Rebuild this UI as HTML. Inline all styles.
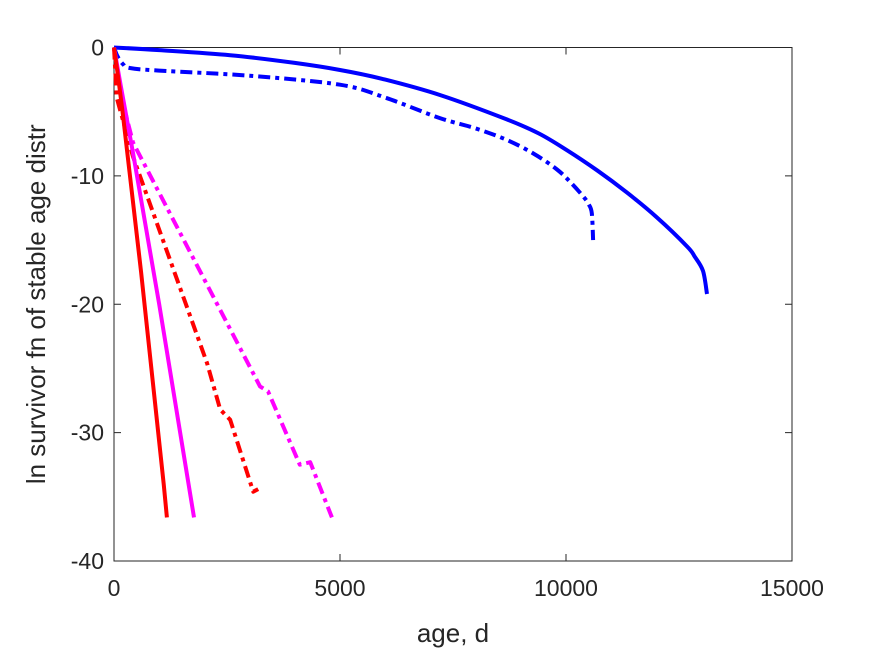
<!DOCTYPE html>
<html><head><meta charset="utf-8"><style>
body{margin:0;background:#fff;}
svg{display:block;font-family:"Liberation Sans",sans-serif;}
</style></head><body>
<svg id="chart" width="875" height="656">
<rect width="875" height="656" fill="#fff"/>
<g id="plot"></g>
</svg>
<script>
const xTicks=[0,5000,10000,15000];
const yTicks=[0,-10,-20,-30,-40];
const redSolidX=[0,100,200,600,1100,1170];
const redSolidY=[0,-2.5,-5.3,-17.5,-34,-36.6];
const magSolidX=[0,150,420,1000,1770];
const magSolidY=[0,-3,-8.2,-20,-36.6];
const redDashX=[0,60,420,2060,2350,2570,3080,3190];
const redDashY=[0,-3.9,-8.5,-24.6,-28.2,-29,-34.6,-34.4];
const magDashX=[0,100,420,3230,3410,4110,4340,4820];
const magDashY=[0,-3,-7.4,-26.4,-26.8,-32.5,-32.3,-36.6];
const blueSolidX=[0,1000,2570,4000,5000,6000,7210,8690,9400,10020,10700,11350,12000,12680,12850,13030,13120];
const blueSolidY=[0,-0.2,-0.6,-1.2,-1.75,-2.5,-3.7,-5.6,-6.7,-8.0,-9.6,-11.3,-13.2,-15.5,-16.3,-17.4,-19.2];
const blueDashX=[0,80,200,350,1000,3000,5000,6000,7210,8000,8690,9300,9800,10100,10380,10500,10570,10600];
const blueDashY=[0,-0.7,-1.3,-1.6,-1.8,-2.2,-2.9,-3.9,-5.5,-6.3,-7.2,-8.3,-9.5,-10.5,-11.6,-12.2,-12.9,-15.0];

const L=114,R=792,T=47.5,B=561;
const sx=v=>L+(v-0)/15000*(R-L);
const sy=v=>T+(0-v)/40*(B-T);
const NS="http://www.w3.org/2000/svg";
const g=document.getElementById('plot');
function mk(t,a){const e=document.createElementNS(NS,t);for(const k in a)e.setAttribute(k,a[k]);g.appendChild(e);return e;}
const box=mk('rect',{x:L,y:T,width:R-L,height:B-T,fill:'none',stroke:'#262626','stroke-width':1});


xTicks.forEach(v=>{
 const t=mk('line',{x1:sx(v),x2:sx(v),y1:B,y2:B-7,stroke:'#262626'});
 
 
 const t2=mk('line',{x1:sx(v),x2:sx(v),y1:T,y2:T+7,stroke:'#262626'});
 
 
 const tx=mk('text',{x:sx(v),y:B+35,'text-anchor':'middle','font-size':23,fill:'#262626'});
 tx.textContent=v;
 
 
});
yTicks.forEach(v=>{
 const t=mk('line',{x1:L,x2:L+7,y1:sy(v),y2:sy(v),stroke:'#262626'});
 
 
 const t2=mk('line',{x1:R,x2:R-7,y1:sy(v),y2:sy(v),stroke:'#262626'});
 
 
 const tx=mk('text',{x:L-10,y:sy(v)+8,'text-anchor':'end','font-size':23,fill:'#262626'});
 tx.textContent=v;
 
 
});
const xl=mk('text',{x:(L+R)/2,y:642,'text-anchor':'middle','font-size':26,fill:'#262626'});
xl.textContent='age, d';


const yl=mk('text',{x:0,y:0,'text-anchor':'middle','font-size':26,fill:'#262626',transform:'translate(45,'+((T+B)/2)+') rotate(-90)'});
yl.textContent='ln survivor fn of stable age distr';


function linePath(xs,ys){return xs.map((x,i)=>(i?'L':'M')+sx(x).toFixed(1)+','+sy(ys[i]).toFixed(1)).join('');}
function smoothPath(xs,ys){
 const P=xs.map((x,i)=>[sx(x),sy(ys[i])]);
 let d='M'+P[0][0].toFixed(1)+','+P[0][1].toFixed(1);
 for(let i=0;i<P.length-1;i++){
  const p0=P[Math.max(0,i-1)],p1=P[i],p2=P[i+1],p3=P[Math.min(P.length-1,i+2)];
  const c1=[p1[0]+(p2[0]-p0[0])/6,p1[1]+(p2[1]-p0[1])/6];
  const c2=[p2[0]-(p3[0]-p1[0])/6,p2[1]-(p3[1]-p1[1])/6];
  d+='C'+c1[0].toFixed(1)+','+c1[1].toFixed(1)+' '+c2[0].toFixed(1)+','+c2[1].toFixed(1)+' '+p2[0].toFixed(1)+','+p2[1].toFixed(1);
 }
 return d;
}
function series(xs,ys,color,dash,name,smooth){
 const d=smooth?smoothPath(xs,ys):linePath(xs,ys);
 const p=mk('path',{d:d,fill:'none',stroke:color,'stroke-width':4,'stroke-linejoin':'round'});
 if(dash)p.setAttribute('stroke-dasharray','12,5,4,5');
 
 
}
series(blueSolidX,blueSolidY,'#0000ff',false,'blue-solid-line',true);
series(blueDashX,blueDashY,'#0000ff',true,'blue-dashdot-line',true);
series(magDashX,magDashY,'#ff00ff',true,'magenta-dashdot-line',false);
series(redDashX,redDashY,'#ff0000',true,'red-dashdot-line',false);
series(magSolidX,magSolidY,'#ff00ff',false,'magenta-solid-line',false);
series(redSolidX,redSolidY,'#ff0000',false,'red-solid-line',false);
</script>
</body></html>
